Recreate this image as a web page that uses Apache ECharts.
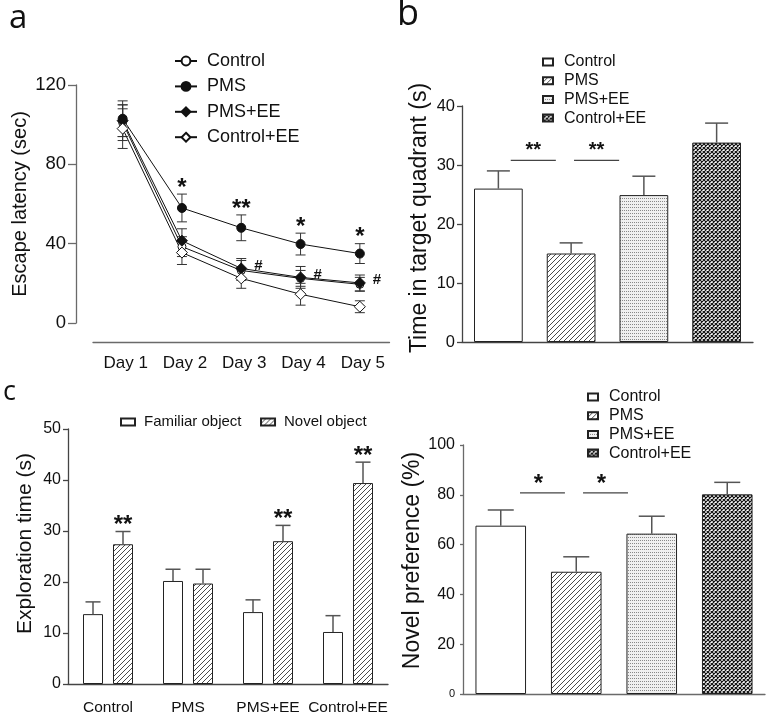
<!DOCTYPE html>
<html><head><meta charset="utf-8">
<script src="https://cdn.jsdelivr.net/npm/echarts@6/dist/echarts.min.js"></script>
<style>html,body{margin:0;padding:0;background:#fff;width:771px;height:719px;overflow:hidden;position:relative}</style>
</head><body>
<script>
// ---------- DATA ----------
const days = ['Day 1','Day 2','Day 3','Day 4','Day 5'];
const latencyTicks = [0, 40, 80, 120];
const latencyControl   = [101, 38.5, 26.5, 22.5, 19.5];
const latencyControlErr= [9, 5, 5, 4, 3.5];
const latencyPMS       = [103, 58, 48, 39.8, 35];
const latencyPMSErr    = [9, 7, 6.5, 5.5, 5];
const latencyPMSEE     = [102, 41.5, 27.5, 23, 20.2];
const latencyPMSEEErr  = [8, 6, 5, 5.5, 4];
const latencyControlEE = [98, 35.5, 22.5, 14.5, 8.2];
const latencyControlEEErr = [10, 6, 5, 5.5, 3];
const latencyStars = ['', '*', '**', '*', '*'];
const latencyHash  = ['', '', '#', '#', '#'];

const groups = ['Control', 'PMS', 'PMS+EE', 'Control+EE'];
const quadrantMean = [26, 15, 24.9, 33.8];
const quadrantErr  = [3, 1.8, 3.2, 3.3];
// [from (category units), to (category units), level, label]
const quadrantSig  = [[0.17, 0.79, 30.8, '**'], [1.04, 1.66, 30.8, '**']];

const objectNames = ['Familiar object', 'Novel object'];
const familiarMean = [13.7, 20.2, 14.1, 10.2];
const familiarErr  = [2.4, 2.3, 2.4, 3.2];
const novelMean    = [27.4, 19.7, 28.0, 39.4];
const novelErr     = [2.5, 2.8, 3.1, 4.1];
const novelStars   = ['**', '', '**', '**'];

const preferenceMean = [67.6, 49.1, 64.4, 80.2];
const preferenceErr  = [6.3, 6.0, 7.0, 4.8];
const preferenceSig  = [[0.255, 0.85, 80.8, '*'], [1.09, 1.685, 80.8, '*']];

// ---------- STYLE HELPERS ----------
const FN = '"Liberation Sans", Arial, sans-serif';
const LETTER = '"Open Sans", "DejaVu Sans", sans-serif';
const AX = '#6a6a6a';

function pat(kind) {
  const c = document.createElement('canvas');
  const g = c.getContext('2d');
  if (kind === 'hatch') {
    const s = 5; c.width = c.height = s;
    g.fillStyle = '#fff'; g.fillRect(0, 0, s, s);
    g.strokeStyle = '#2a2a2a'; g.lineWidth = 0.85;
    g.beginPath();
    g.moveTo(-1, s + 1); g.lineTo(s + 1, -1);
    g.moveTo(-1, 1); g.lineTo(1, -1);
    g.moveTo(s - 1, s + 1); g.lineTo(s + 1, s - 1);
    g.stroke();
  } else if (kind === 'dots') {
    c.width = 2; c.height = 3;
    g.fillStyle = '#f0f0f0'; g.fillRect(0, 0, 2, 3);
    g.fillStyle = '#888'; g.fillRect(0, 0, 1, 1);
  } else if (kind === 'cross') {
    const s = 4; c.width = c.height = s;
    g.fillStyle = '#fff'; g.fillRect(0, 0, s, s);
    g.strokeStyle = '#111'; g.lineWidth = 1.2;
    g.beginPath();
    g.moveTo(0, 0); g.lineTo(s, s);
    g.moveTo(0, s); g.lineTo(s, 0);
    g.stroke();
  } else {
    c.width = c.height = 2; g.fillStyle = '#fff'; g.fillRect(0, 0, 2, 2);
  }
  return { image: c, repeat: 'repeat' };
}
const groupFill = [pat('white'), pat('hatch'), pat('dots'), pat('cross')];

function mk() {
  const d = document.createElement('div');
  d.style.cssText = 'position:absolute;left:0;top:0;width:771px;height:719px';
  document.body.appendChild(d);
  return echarts.init(d, null, { renderer: 'canvas' });
}

function errorSeries(means, errs, opt) {
  return {
    type: 'custom', z: opt.z || 3, silent: true,
    data: means.map((m, i) => [i, m, errs[i]]),
    renderItem: (params, api) => {
      const i = api.value(0), m = api.value(1), e = api.value(2);
      const band = api.size([1, 0])[0];
      const c = api.coord([i, m]), t = api.coord([i, m + e]), b = api.coord([i, m - e]);
      const x = c[0] + (opt.shift || 0) * band, hw = opt.cap / 2;
      const st = { stroke: opt.color || '#444', lineWidth: opt.lw || 1.2 };
      const ch = [
        { type: 'line', shape: { x1: x, y1: opt.both ? b[1] : c[1], x2: x, y2: t[1] }, style: st },
        { type: 'line', shape: { x1: x - hw, y1: t[1], x2: x + hw, y2: t[1] }, style: st }
      ];
      if (opt.both) ch.push({ type: 'line', shape: { x1: x - hw, y1: b[1], x2: x + hw, y2: b[1] }, style: st });
      return { type: 'group', children: ch };
    }
  };
}

function sigSeries(list, opt) {
  return {
    type: 'custom', z: 5, silent: true,
    data: list.map((s, i) => [i, s[2]]),
    renderItem: (params, api) => {
      const s = list[params.dataIndex];
      const a = api.coord([0, s[2]]), b = api.coord([1, s[2]]);
      const step = b[0] - a[0];
      const x1 = a[0] + s[0] * step, x2 = a[0] + s[1] * step;
      return { type: 'group', children: [
        { type: 'line', shape: { x1: x1, y1: a[1], x2: x2, y2: a[1] }, style: { stroke: '#444', lineWidth: 1.2 } },
        { type: 'text', x: (x1 + x2) / 2 + (opt.dx || 0), y: a[1] - opt.dy,
          style: { text: s[3], fontSize: opt.fs, fontWeight: 'bold', fontFamily: FN, fill: '#111', align: 'center', verticalAlign: 'middle' } }
      ]};
    }
  };
}

// ---------- PANEL A ----------
const chartA = mk();
const lineStyle = { color: '#111', width: 1 };
function lineSer(name, data, symbol, fill, size) {
  return { name: name, type: 'line', data: data, symbol: symbol, symbolSize: size, z: 4,
    lineStyle: lineStyle, itemStyle: { color: fill, borderColor: '#111', borderWidth: 1 } };
}
chartA.setOption({
  animation: false,
  title: { text: 'a', left: 9, top: 2, padding: 0, textStyle: { fontFamily: LETTER, fontSize: 33, fontWeight: 'normal', color: '#111' } },
  legend: { orient: 'vertical', left: 174, top: 52, padding: 0, itemWidth: 22, itemHeight: 11, itemGap: 7.4,
    textStyle: { fontFamily: FN, fontSize: 18, color: '#111', padding: [0, 0, 0, 5] },
    data: ['Control', 'PMS', 'PMS+EE', 'Control+EE'] },
  grid: { left: 93, top: 85, width: 296.5, height: 238 },
  xAxis: { type: 'category', data: days, boundaryGap: true, offset: 19,
    axisLine: { onZero: false, lineStyle: { color: AX, width: 1.3 } },
    axisTick: { alignWithLabel: true, inside: true, length: 7, lineStyle: { color: AX, width: 1.3 } },
    axisLabel: { fontFamily: FN, fontSize: 17, color: '#111', margin: 13, padding: [0, 0, 0, 6] } },
  yAxis: { type: 'value', min: latencyTicks[0], max: latencyTicks[latencyTicks.length - 1], interval: 40, offset: 17,
    name: 'Escape latency (sec)', nameLocation: 'middle', nameGap: 46,
    nameTextStyle: { fontFamily: FN, fontSize: 20, color: '#111' },
    axisLine: { show: true, lineStyle: { color: AX, width: 1.3 } },
    axisTick: { show: true, length: 8, lineStyle: { color: AX, width: 1.3 } },
    axisLabel: { fontFamily: FN, fontSize: 18.5, color: '#111', margin: 10 },
    splitLine: { show: false } },
  series: [
    errorSeries(latencyControl, latencyControlErr, { cap: 10, both: true, z: 1, color: '#333', lw: 1 }),
    errorSeries(latencyPMS, latencyPMSErr, { cap: 10, both: true, z: 1, color: '#333', lw: 1 }),
    errorSeries(latencyPMSEE, latencyPMSEEErr, { cap: 10, both: true, z: 1, color: '#333', lw: 1 }),
    errorSeries(latencyControlEE, latencyControlEEErr, { cap: 10, both: true, z: 1, color: '#333', lw: 1 }),
    lineSer('Control', latencyControl, 'circle', '#fff', 8),
    lineSer('PMS', latencyPMS, 'circle', '#111', 9),
    lineSer('PMS+EE', latencyPMSEE, 'diamond', '#111', 11),
    lineSer('Control+EE', latencyControlEE, 'diamond', '#fff', 11),
    { type: 'custom', z: 6, silent: true,
      data: latencyStars.map((s, i) => [i, latencyPMS[i], latencyPMSErr[i]]).filter((d, i) => latencyStars[i]),
      renderItem: (params, api) => {
        const i = api.value(0);
        const t = api.coord([i, api.value(1) + api.value(2)]);
        return { type: 'text', x: t[0], y: t[1] - 6,
          style: { text: latencyStars[i], fontFamily: FN, fontSize: 24, fontWeight: 'bold', fill: '#111', align: 'center', verticalAlign: 'middle' } };
      } },
    { type: 'custom', z: 6, silent: true,
      data: latencyHash.map((s, i) => [i, latencyPMSEE[i]]).filter((d, i) => latencyHash[i]),
      renderItem: (params, api) => {
        const i = api.value(0);
        const p = api.coord([i, api.value(1)]);
        return { type: 'text', x: p[0] + 13, y: p[1] - 3,
          style: { text: latencyHash[i], fontFamily: FN, fontSize: 15, fontWeight: 'bold', fill: '#111', align: 'left', verticalAlign: 'middle' } };
      } }
  ]
});

// ---------- PANEL B ----------
function barGroupSeries(means) {
  return groups.map((g, k) => ({
    name: g, type: 'bar', barWidth: '67%', barGap: '-100%', z: 2,
    data: means.map((v, j) => (j === k ? v : '-')),
    itemStyle: { color: groupFill[k], borderColor: '#222', borderWidth: 1 }
  }));
}
const chartB = mk();
chartB.setOption({
  animation: false,
  title: { text: 'b', left: 397, top: -3, padding: 0, textStyle: { fontFamily: LETTER, fontSize: 36, fontWeight: 'normal', color: '#111' } },
  legend: { orient: 'vertical', left: 542, top: 54, padding: 0, itemWidth: 10, itemHeight: 7, itemGap: 2.7, icon: 'rect',
    textStyle: { fontFamily: FN, fontSize: 16, color: '#111', padding: [0, 0, 0, 6] },
    data: groups },
  grid: { left: 462, top: 106, width: 291, height: 236 },
  xAxis: { type: 'category', data: groups,
    axisLine: { lineStyle: { color: '#444', width: 1.3 } }, axisTick: { show: false }, axisLabel: { show: false } },
  yAxis: { type: 'value', min: 0, max: 40, interval: 10,
    name: 'Time in target quadrant (s)', nameLocation: 'middle', nameGap: 31,
    nameTextStyle: { fontFamily: FN, fontSize: 23, color: '#111', padding: [0, 0, 0, 12] },
    axisLine: { show: true, lineStyle: { color: '#444', width: 1.3 } },
    axisTick: { show: true, length: 5, lineStyle: { color: '#444', width: 1.3 } },
    axisLabel: { fontFamily: FN, fontSize: 16.5, color: '#111', margin: 7 },
    splitLine: { show: false } },
  series: barGroupSeries(quadrantMean).concat([
    errorSeries(quadrantMean, quadrantErr, { cap: 23, z: 3, color: '#555', lw: 1.5 }),
    sigSeries(quadrantSig, { fs: 20, dy: 10 })
  ])
});

// ---------- PANEL C ----------
const chartC = mk();
chartC.setOption({
  animation: false,
  title: { text: 'c', left: 3, top: 379, padding: 0, textStyle: { fontFamily: LETTER, fontSize: 27, fontWeight: 'normal', color: '#111' } },
  legend: { orient: 'horizontal', left: 120, top: 414.5, padding: 0, itemWidth: 14, itemHeight: 7, itemGap: 18.5, icon: 'rect',
    textStyle: { fontFamily: FN, fontSize: 15, color: '#111', padding: [0, 0, 0, 4] },
    data: objectNames },
  grid: { left: 68, top: 429, width: 320, height: 255 },
  xAxis: { type: 'category', data: groups,
    axisLine: { lineStyle: { color: '#444', width: 1.3 } }, axisTick: { show: false },
    axisLabel: { interval: 0, fontFamily: FN, fontSize: 15.5, color: '#111', margin: 16 } },
  yAxis: { type: 'value', min: 0, max: 50, interval: 10,
    name: 'Exploration time (s)', nameLocation: 'middle', nameGap: 32,
    nameTextStyle: { fontFamily: FN, fontSize: 21, color: '#111', padding: [0, 0, 0, 26] },
    axisLine: { show: true, lineStyle: { color: '#444', width: 1.3 } },
    axisTick: { show: true, length: 5, lineStyle: { color: '#444', width: 1.3 } },
    axisLabel: { fontFamily: FN, fontSize: 16, color: '#111', margin: 7 },
    splitLine: { show: false } },
  series: [
    { name: objectNames[0], type: 'bar', data: familiarMean, barWidth: '25%', barGap: '50%', z: 2,
      itemStyle: { color: groupFill[0], borderColor: '#222', borderWidth: 1 } },
    { name: objectNames[1], type: 'bar', data: novelMean, barWidth: '25%', barGap: '50%', z: 2,
      itemStyle: { color: groupFill[1], borderColor: '#222', borderWidth: 1 } },
    errorSeries(familiarMean, familiarErr, { cap: 15, shift: -0.1875, z: 3, color: '#555', lw: 1.5 }),
    errorSeries(novelMean, novelErr, { cap: 15, shift: 0.1875, z: 3, color: '#555', lw: 1.5 }),
    { type: 'custom', z: 6, silent: true,
      data: novelStars.map((s, i) => [i, novelMean[i], novelErr[i]]).filter((d, i) => novelStars[i]),
      renderItem: (params, api) => {
        const i = api.value(0);
        const band = api.size([1, 0])[0];
        const t = api.coord([i, api.value(1) + api.value(2)]);
        return { type: 'text', x: t[0] + 0.1875 * band, y: t[1] - 6,
          style: { text: novelStars[i], fontFamily: FN, fontSize: 24, fontWeight: 'bold', fill: '#111', align: 'center', verticalAlign: 'middle' } };
      } }
  ]
});

// ---------- PANEL D ----------
const chartD = mk();
chartD.setOption({
  animation: false,
  legend: { orient: 'vertical', left: 587, top: 389, padding: 0, itemWidth: 10, itemHeight: 7, itemGap: 2.7, icon: 'rect',
    textStyle: { fontFamily: FN, fontSize: 16, color: '#111', padding: [0, 0, 0, 6] },
    data: groups },
  grid: { left: 463, top: 445, width: 302, height: 249 },
  xAxis: { type: 'category', data: groups,
    axisLine: { lineStyle: { color: AX, width: 1.3 } }, axisTick: { show: false }, axisLabel: { show: false } },
  yAxis: { type: 'value', min: 0, max: 100, interval: 20,
    name: 'Novel preference (%)', nameLocation: 'middle', nameGap: 37,
    nameTextStyle: { fontFamily: FN, fontSize: 23, color: '#111', padding: [0, 0, 0, 18] },
    axisLine: { show: true, lineStyle: { color: AX, width: 1.3 } },
    axisTick: { show: true, length: 3, lineStyle: { color: AX, width: 1.3 } },
    axisLabel: { fontFamily: FN, fontSize: 16, color: '#111', margin: 8,
      formatter: v => (v === 0 ? '{s|0}' : String(v)),
      rich: { s: { fontFamily: FN, fontSize: 11, color: '#111' } } },
    splitLine: { show: false } },
  series: barGroupSeries(preferenceMean).concat([
    errorSeries(preferenceMean, preferenceErr, { cap: 26, z: 3, color: '#555', lw: 1.5 }),
    sigSeries(preferenceSig, { fs: 24, dy: 8, dx: -4 })
  ])
});
</script>
</body></html>
